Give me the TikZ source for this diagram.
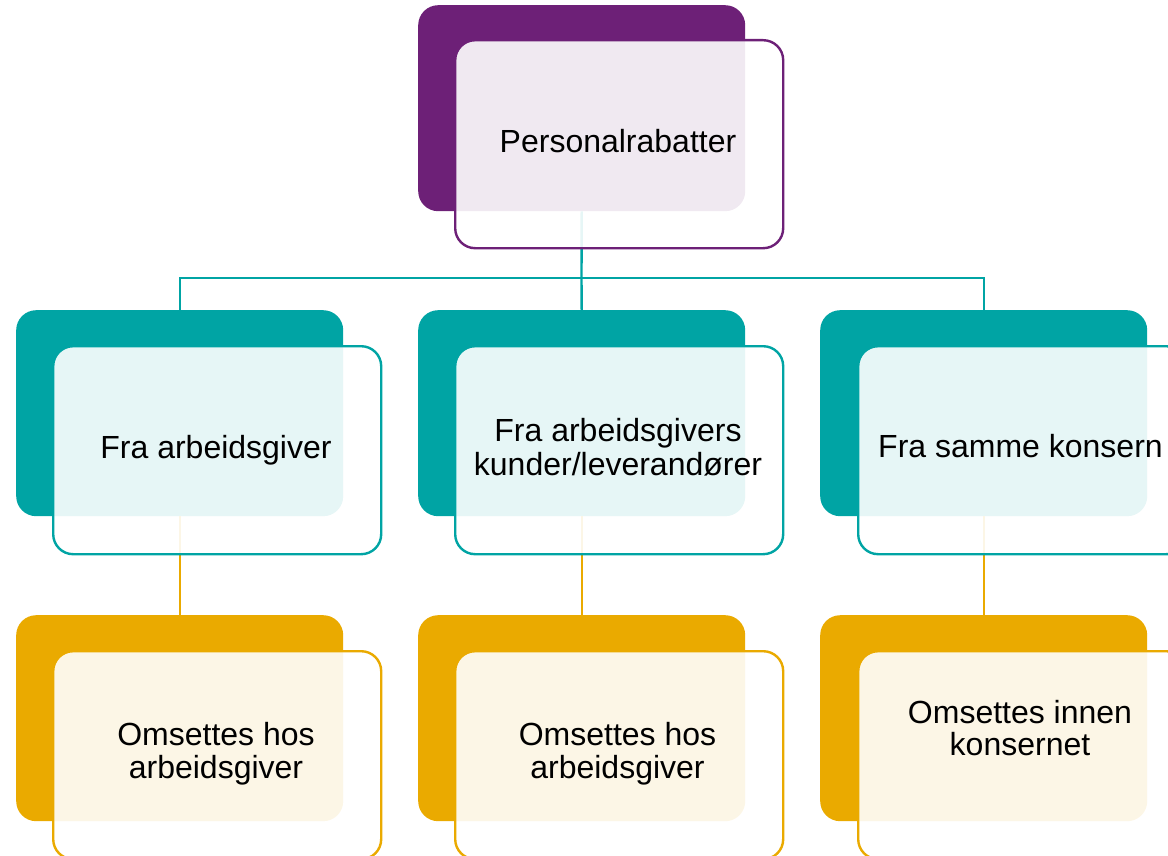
\documentclass[tikz,border=0pt]{standalone}
\usepackage{fontspec}
\setmainfont{Liberation Sans}
\definecolor{pur}{RGB}{109,32,119}
\definecolor{tea}{RGB}{0,164,164}
\definecolor{gol}{RGB}{234,170,0}
\newcommand{\twoline}[2]{\begin{tabular}[t]{@{}c@{}}#1\\#2\end{tabular}}
\begin{document}
\begin{tikzpicture}[x=1pt,y=-1pt,
  backbox/.style={rectangle, rounded corners=20pt, minimum width=327pt, minimum height=206pt, inner sep=0pt, anchor=north west, fill=#1},
  frontbox/.style={rectangle, rounded corners=20pt, minimum width=328pt, minimum height=208pt, inner sep=0pt, anchor=north west, draw=#1, line width=2.4pt, fill=white, fill opacity=0.9},
  conn/.style={draw=#1, line width=2.4pt},
  lbl/.style={anchor=base, inner sep=0pt, font=\fontsize{32}{33}\selectfont, text=black}]
\useasboundingbox (0,0) rectangle (1168,856);
% back boxes
\node[backbox=pur] (pb) at (418,5) {};
\node[backbox=tea] (ab) at (16,310) {};
\node[backbox=tea] (bb) at (418,310) {};
\node[backbox=tea] (cb) at (820,310) {};
\node[backbox=gol] (db) at (16,615) {};
\node[backbox=gol] (eb) at (418,615) {};
\node[backbox=gol] (fb) at (820,615) {};
% connectors
\coordinate (bus) at (581.5,278);
\draw[conn=tea] (pb.south) -- (bus);
\draw[conn=tea] (bus) -| (ab.north);
\draw[conn=tea] (bus) -- (bb.north);
\draw[conn=tea] (bus) -| (cb.north);
\draw[conn=gol] (ab.south) -- (db.north);
\draw[conn=gol] (bb.south) -- (eb.north);
\draw[conn=gol] (cb.south) -- (fb.north);
% front boxes
\node[frontbox=pur] (pf) at (454,39) {};
\node[frontbox=tea] (af) at (52,345) {};
\node[frontbox=tea] (bf) at (454,345) {};
\node[frontbox=tea] (cf) at (857,345) {};
\node[frontbox=gol] (df) at (52,650) {};
\node[frontbox=gol] (ef) at (454,650) {};
\node[frontbox=gol] (ff) at (857,650) {};
% texts
\node[lbl] (pt) at (618,153) {Personalrabatter};
\node[lbl] (at) at (216,458) {Fra arbeidsgiver};
\node[lbl, font=\fontsize{32}{34}\selectfont] (bt) at (618,441) {\twoline{Fra arbeidsgivers}{kunder/leverandører}};
\node[lbl] (ct) at (1020.5,457) {Fra samme konsern};
\node[lbl] (dt) at (216,745) {\twoline{Omsettes hos}{arbeidsgiver}};
\node[lbl] (et) at (617.5,745) {\twoline{Omsettes hos}{arbeidsgiver}};
\node[lbl, font=\fontsize{32}{32.5}\selectfont] (ft) at (1020,723) {\twoline{Omsettes innen}{konsernet}};
\end{tikzpicture}
\end{document}
